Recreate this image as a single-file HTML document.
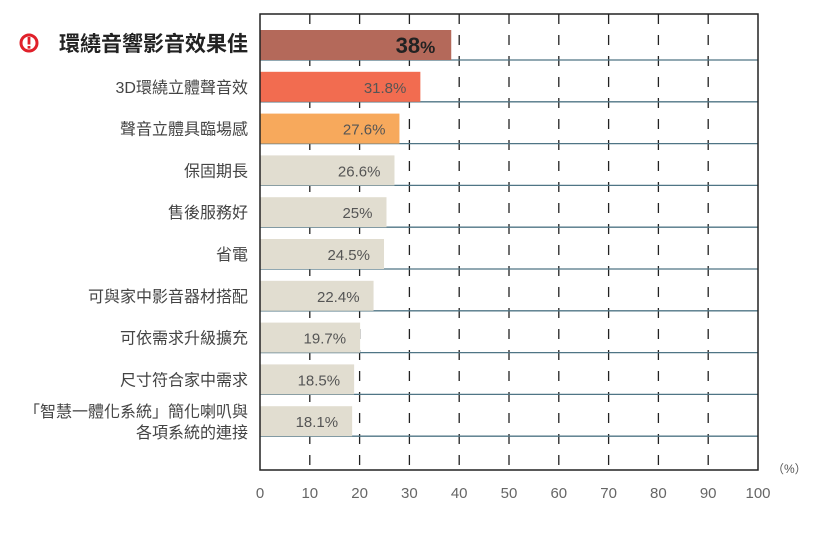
<!DOCTYPE html>
<html><head><meta charset="utf-8"><style>
body{margin:0;background:#fff;}
svg text{font-family:"Liberation Sans","Noto Sans CJK TC",sans-serif;}
</style></head><body>
<svg id="chart" width="820" height="530" xmlns="http://www.w3.org/2000/svg"></svg>
<script>
const categories=["環繞音響影音效果佳","3D環繞立體聲音效","聲音立體具臨場感","保固期長","售後服務好","省電","可與家中影音器材搭配","可依需求升級擴充","尺寸符合家中需求","「智慧一體化系統」簡化喇叭與|各項系統的連接"];
const values=[38,31.8,27.6,26.6,25,24.5,22.4,19.7,18.5,18.1];
const tickValues=[0,10,20,30,40,50,60,70,80,90,100];
const colors=["#b4695a","#f26c50","#f7a95c","#e1ddd0","#e1ddd0","#e1ddd0","#e1ddd0","#e1ddd0","#e1ddd0","#e1ddd0"];
const NS="http://www.w3.org/2000/svg";
const svg=document.getElementById('chart');
const L=260,R=758,T=14,B=470,rowTop=30,pitch=41.8,bh=30;
const x=v=>L+(R-L)*v/100;
const y=i=>rowTop+i*pitch;
function el(t,a){const e=document.createElementNS(NS,t);for(const k in a)e.setAttribute(k,a[k]);svg.appendChild(e);return e;}
tickValues.forEach((t,i)=>{
  if(t>0&&t<100){const g=el('line',{x1:x(t),x2:x(t),y1:T,y2:B,stroke:'#222','stroke-width':1.3,'stroke-dasharray':'10,11'});
  
  }
  const tx=el('text',{x:x(t),y:498,'text-anchor':'middle','font-size':15,fill:'#666'});
  tx.textContent=t;
  
  
});
categories.forEach((c,i)=>{
  const yb=y(i)+bh;
  const hl=el('line',{x1:L,x2:R,y1:yb,y2:yb,stroke:'#4f7585','stroke-width':1.3});
  
  
  const r=el('rect',{x:L,y:y(i),width:x(values[i])-L+2,height:bh,fill:colors[i]});
  
  
  const first=i===0;
  const vt=el('text',{x:x(values[i])-(first?14:12),y:y(i)+(first?23:21),'text-anchor':'end','font-size':first?22:15,'font-weight':first?'bold':'normal',fill:first?'#222':'#555'});
  vt.textContent=values[i]+'%';
  if(first){vt.textContent='';const a=document.createElementNS(NS,'tspan');a.textContent=values[i];vt.appendChild(a);const b=document.createElementNS(NS,'tspan');b.setAttribute('font-size','17');b.textContent='%';vt.appendChild(b);}
  
  
  const parts=c.split('|');
  parts.forEach((p,j)=>{
    const ty=parts.length>1?y(i)+11+j*21:y(i)+21;
    const t=el('text',{x:248,y:ty,'text-anchor':'end','font-size':first?21:16,'font-weight':first?'bold':'normal',fill:first?'#222':'#444'});
    t.textContent=p;
    
    
  });
});
const ic=el('circle',{cx:29,cy:43,r:8,fill:'none',stroke:'#e0202a','stroke-width':3});


const ib=el('rect',{x:27.6,y:37,width:2.8,height:7.5,fill:'#e0202a'});


const id=el('rect',{x:27.6,y:46,width:2.8,height:2.6,fill:'#e0202a'});


const ax=el('path',{d:`M${L},${T} H${R} V${B} H${L} Z`,fill:'none',stroke:'#222','stroke-width':1.5});


const u=el('text',{x:772,y:473,'font-size':12,fill:'#555'});
u.textContent='（%）';


</script>
</body></html>
